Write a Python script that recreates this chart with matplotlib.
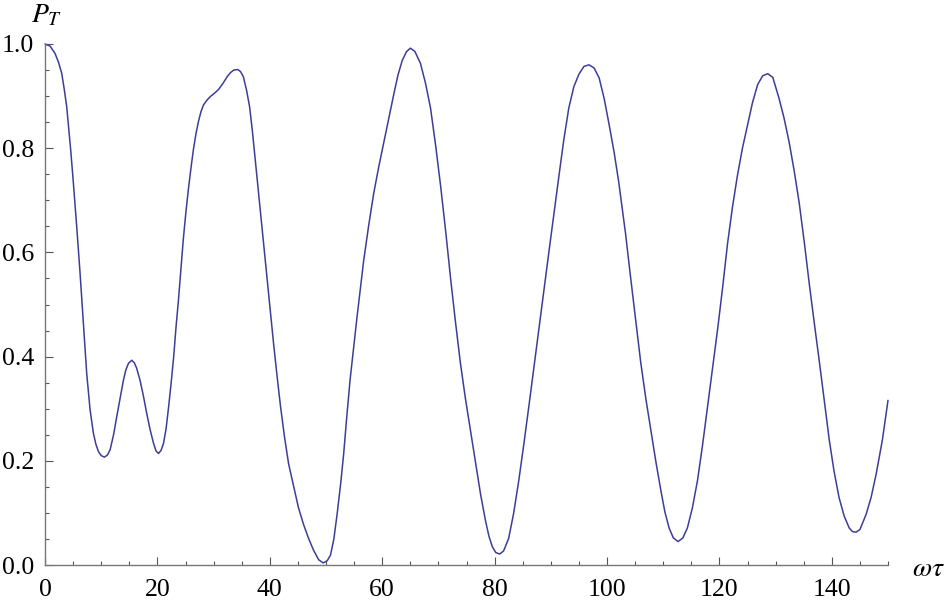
import matplotlib
matplotlib.use("Agg")
import matplotlib.pyplot as plt
from matplotlib.ticker import MultipleLocator

# values
omega_tau = [0.0, 0.9, 1.78, 2.4, 2.97, 3.4, 3.86, 4.2, 4.57, 5.05, 5.64, 6.24, 6.83, 7.42, 8.02,
             8.61, 9.05, 9.5, 10.0, 10.57, 11.1, 11.58, 12.2, 12.77, 13.4, 13.96, 14.4, 14.85, 15.44,
             15.9, 16.3, 16.9, 17.5, 18.1, 18.7, 19.3, 19.75, 20.2, 20.65, 21.1, 21.55, 22.0, 22.45,
             22.9, 23.3, 23.75, 24.2, 24.6, 25.05, 25.5, 25.95, 26.4, 26.85, 27.3, 27.75, 28.2, 28.8,
             29.4, 30.1, 30.9, 31.7, 32.4, 33.0, 33.6, 34.3, 34.8, 35.3, 35.85, 36.4, 36.9, 37.4,
             38.0, 38.6, 39.2, 39.8, 40.7, 41.3, 41.9, 42.6, 43.35, 44.3, 45.1, 46.0, 46.9, 47.8,
             48.7, 49.5, 50.2, 50.8, 51.4, 51.97, 52.6, 53.15, 53.7, 54.3, 55.5, 56.7, 57.6, 58.5,
             59.4, 60.3, 61.2, 62.05, 62.8, 63.55, 64.3, 65.0, 65.8, 66.8, 67.7, 68.6, 69.5, 70.4,
             71.3, 72.15, 73.0, 73.9, 74.8, 75.7, 76.6, 77.5, 78.4, 79.0, 79.6, 80.2, 80.9, 81.6,
             82.5, 83.4, 84.3, 85.2, 86.1, 87.0, 87.9, 88.8, 89.7, 90.6, 91.45, 92.3, 93.2, 94.1,
             95.0, 95.9, 96.8, 97.7, 98.6, 99.5, 100.4, 101.3, 102.1, 103.3, 104.2, 105.1, 106.0,
             106.9, 107.8, 108.7, 109.6, 110.3, 111.05, 111.8, 112.65, 113.5, 114.3, 115.2, 116.1,
             117.0, 117.9, 118.8, 119.7, 120.6, 121.45, 122.3, 123.2, 124.1, 125.0, 125.9, 126.8,
             127.7, 128.6, 129.5, 130.6, 131.5, 132.4, 133.3, 134.2, 135.1, 136.0, 136.9, 137.8,
             138.7, 139.55, 140.4, 141.3, 142.2, 143.1, 143.7, 144.3, 145.0, 146.1, 147.0, 147.9,
             149.0, 150.0]
p_t = [1.000, 0.996, 0.982, 0.965, 0.944, 0.915, 0.880, 0.840, 0.797, 0.733, 0.650, 0.560, 0.464, 0.368, 0.298,
       0.253, 0.232, 0.218, 0.210, 0.207, 0.211, 0.221, 0.250, 0.285, 0.322, 0.355, 0.375, 0.387, 0.393,
       0.388, 0.378, 0.355, 0.325, 0.291, 0.260, 0.234, 0.219, 0.214, 0.220, 0.234, 0.262, 0.304, 0.350,
       0.400, 0.455, 0.509, 0.570, 0.624, 0.675, 0.720, 0.760, 0.797, 0.827, 0.851, 0.870, 0.883, 0.892,
       0.899, 0.905, 0.913, 0.925, 0.937, 0.945, 0.950, 0.951, 0.947, 0.937, 0.912, 0.880, 0.833, 0.779,
       0.716, 0.649, 0.584, 0.519, 0.422, 0.362, 0.305, 0.247, 0.194, 0.148, 0.110, 0.078, 0.051, 0.028,
       0.010, 0.004, 0.008, 0.019, 0.050, 0.097, 0.155, 0.214, 0.285, 0.357, 0.474, 0.584, 0.652, 0.714,
       0.765, 0.812, 0.860, 0.903, 0.940, 0.968, 0.985, 0.992, 0.986, 0.963, 0.925, 0.877, 0.806, 0.727,
       0.640, 0.552, 0.470, 0.389, 0.320, 0.259, 0.198, 0.136, 0.084, 0.055, 0.035, 0.024, 0.021, 0.027,
       0.051, 0.100, 0.162, 0.232, 0.305, 0.380, 0.454, 0.530, 0.604, 0.678, 0.747, 0.815, 0.877, 0.918,
       0.942, 0.957, 0.960, 0.954, 0.935, 0.895, 0.844, 0.790, 0.734, 0.636, 0.552, 0.470, 0.389,
       0.320, 0.259, 0.198, 0.142, 0.102, 0.071, 0.052, 0.045, 0.052, 0.071, 0.110, 0.162,
       0.230, 0.305, 0.380, 0.454, 0.535, 0.617, 0.685, 0.747, 0.800, 0.844, 0.888, 0.922,
       0.939, 0.943, 0.936, 0.896, 0.858, 0.812, 0.757, 0.695, 0.620, 0.539, 0.463, 0.389,
       0.313, 0.240, 0.180, 0.129, 0.094, 0.071, 0.064, 0.063, 0.068, 0.097, 0.130, 0.175,
       0.240, 0.316]

x_major = [0, 20, 40, 60, 80, 100, 120, 140]
y_major = [0.0, 0.2, 0.4, 0.6, 0.8, 1.0]
x_labels = ["0", "20", "40", "60", "80", "100", "120", "140"]
y_labels = ["0.0", "0.2", "0.4", "0.6", "0.8", "1.0"]

plt.rcParams["mathtext.fontset"] = "stix"
plt.rcParams["font.family"] = ["Liberation Serif", "DejaVu Serif"]

fig = plt.figure(figsize=(9.46, 6.01), dpi=100)
ax = fig.add_axes([45 / 946, 36 / 601, 843 / 946, 521 / 601])

ax.plot(omega_tau, p_t, color="#3d3d99", lw=1.1, clip_on=False,
        solid_joinstyle="round", solid_capstyle="round")

ax.set_xlim(0, 150)
ax.set_ylim(0, 1)
for s in ["top", "right"]:
    ax.spines[s].set_visible(False)
for s in ["left", "bottom"]:
    ax.spines[s].set_color("#777777")
    ax.spines[s].set_linewidth(1.0)

ax.set_xticks(x_major)
ax.set_xticklabels(x_labels)
ax.set_yticks(y_major)
ax.set_yticklabels(y_labels)
ax.xaxis.set_minor_locator(MultipleLocator(5))
ax.yaxis.set_minor_locator(MultipleLocator(0.05))
ax.tick_params(which="major", direction="in", length=5.5, width=0.8, color="#555555",
               labelsize=18.5, labelcolor="black")
ax.tick_params(which="minor", direction="in", length=3, width=0.8, color="#555555")
ax.tick_params(axis="x", which="major", pad=10)
ax.tick_params(axis="y", which="major", pad=8)

fig.text(31 / 946, 1 - 22 / 601, r"$P_T$", fontsize=20, va="baseline", ha="left")
fig.text(912 / 946, 1 - 576 / 601, r"$\omega\tau$", fontsize=20, va="baseline", ha="left")

fig.savefig("out.png", dpi=100)
